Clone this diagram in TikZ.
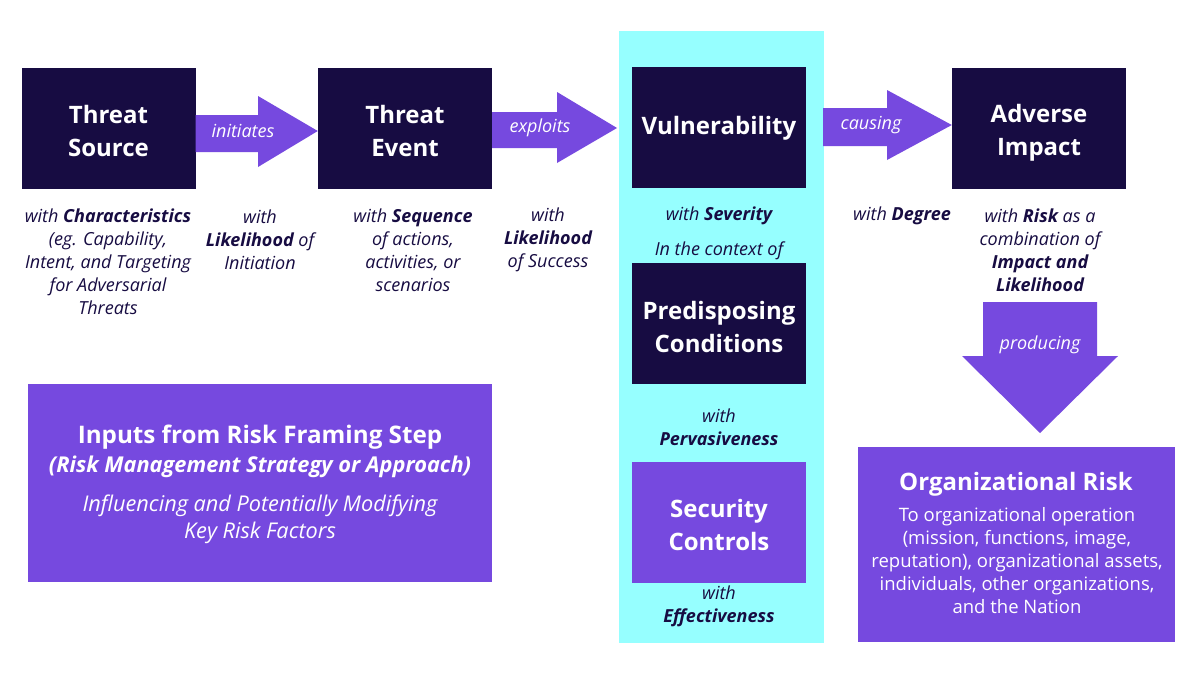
\documentclass[tikz,border=0pt]{standalone}
\usepackage{fontspec}
\setmainfont{Open Sans}
\definecolor{navy}{HTML}{170C42}
\definecolor{purp}{HTML}{7649DF}
\definecolor{cyanbg}{HTML}{96FFFF}
\tikzset{
  darkbox/.style={fill=navy, minimum width=174pt, minimum height=121pt, inner sep=0pt},
  boxtxt/.style={text=white, font=\fontsize{24}{33}\selectfont\bfseries, align=center, inner sep=0pt},
  purpbox/.style={fill=purp, text=white, align=center, inner sep=0pt},
  lbl/.style={text=navy, font=\fontsize{18}{23}\selectfont\itshape, align=center, inner sep=0pt},
  arrlbl/.style={text=white, font=\fontsize{18}{22}\selectfont\itshape, inner sep=0pt},
  arrfill/.style={fill=purp}
}
\begin{document}
\begin{tikzpicture}[x=1pt,y=-1pt]
\useasboundingbox (0,0) rectangle (1200,675);
\fill[white] (0,0) rectangle (1200,675);
% cyan panel
\fill[cyanbg] (619,31) rectangle (824,643);
% boxes
\node[darkbox] (ts) at (108.5,128.5) {};
\node[boxtxt] (tst) at ([yshift=-2pt]ts.center) {Threat\\Source};
\node[darkbox] (te) at (405,128.5) {};
\node[boxtxt] (tet) at ([yshift=-2pt]te.center) {Threat\\Event};
\node[darkbox] (vu) at (719,127.5) {};
\node[boxtxt] (vut) at ([yshift=-1pt]vu.center) {Vulnerability};
\node[darkbox] (pc) at (719,323.5) {};
\node[boxtxt] (pct) at ([yshift=-3pt]pc.center) {Predisposing\\Conditions};
\node[darkbox, fill=purp] (sc) at (719,522) {};
\node[boxtxt] (sct) at ([yshift=-2.5pt]sc.center) {Security\\Controls};
\node[darkbox] (ai) at (1039,128.5) {};
\node[boxtxt] (ait) at ([yshift=-4.5pt]ai.center) {Adverse\\Impact};
% block arrows
\fill[arrfill] (ts.east |- 0,115) -- (258,115) -- (258,96) -- (te.west |- 0,131) -- (258,167) -- (258,152) -- (ts.east |- 0,152) -- cycle;
\node[arrlbl] (l1) at (243,131) {initiates};
\fill[arrfill] (te.east |- 0,112) -- (557,112) -- (557,92) -- (617,128) -- (557,163) -- (557,148) -- (te.east |- 0,148) -- cycle;
\node[arrlbl] (l2) at (540,128) {exploits};
\fill[arrfill] (823,108) -- (887,108) -- (887,90) -- (ai.west |- 0,125) -- (887,160) -- (887,146) -- (823,146) -- cycle;
\node[arrlbl] (l3) at (871,125) {causing};
\fill[arrfill] (983,302) -- (1097,302) -- (1097,356) -- (1118,356) -- (1040,433) -- (962,356) -- (983,356) -- cycle;
\node[arrlbl] (l4) at (1040,345) {producing};
% labels
\node[lbl] (t1) at (108,262) {with \textbf{Characteristics}\\(eg. Capability,\\Intent, and Targeting\\for Adversarial\\Threats};
\node[lbl] (t2) at (260,239.5) {with\\\textbf{Likelihood} of\\Initiation};
\node[lbl] (t3) at (413,250.5) {with \textbf{Sequence}\\of actions,\\activities, or\\scenarios};
\node[lbl] (t4) at (548,239.5) {with\\\textbf{Likelihood}\\of Success};
\node[lbl] (t5) at (719,216) {with \textbf{Severity}};
\node[lbl] (t6) at (719,251) {In the context of};
\node[lbl] (t7) at (719,427) {with\\\textbf{Pervasiveness}};
\node[lbl] (t8) at (719,606) {with\\\textbf{Effectiveness}};
\node[lbl] (t9) at (902,216) {with \textbf{Degree}};
\node[lbl] (t10) at (1040,250.5) {with \textbf{Risk} as a\\combination of\\\textbf{Impact and}\\\textbf{Likelihood}};
% inputs box
\node[purpbox, minimum width=464pt, minimum height=198pt] (in) at (260,483) {};
\node[text=white, font=\fontsize{24.2}{30}\selectfont\bfseries, inner sep=0pt] (in1) at (260,437) {Inputs from Risk Framing Step};
\node[text=white, font=\fontsize{21.8}{26}\selectfont\bfseries\itshape, inner sep=0pt] (in2) at (260,467) {(Risk Management Strategy or Approach)};
\node[text=white, font=\fontsize{21.7}{27}\selectfont\itshape, align=center, inner sep=0pt] (in3) at (260,519) {Influencing and Potentially Modifying\\Key Risk Factors};
% organizational risk box
\node[purpbox, minimum width=317pt, minimum height=195pt] (or) at (1016.5,544.5) {};
\node[text=white, font=\fontsize{24}{30}\selectfont\bfseries, inner sep=0pt] (or1) at (1016,484) {Organizational Risk};
\node[text=white, font=\fontsize{18.5}{23}\selectfont, align=center, inner sep=0pt] (or2) at (1017,561) {To organizational operation\\(mission, functions, image,\\reputation), organizational assets,\\individuals, other organizations,\\and the Nation};
\end{tikzpicture}
\end{document}
